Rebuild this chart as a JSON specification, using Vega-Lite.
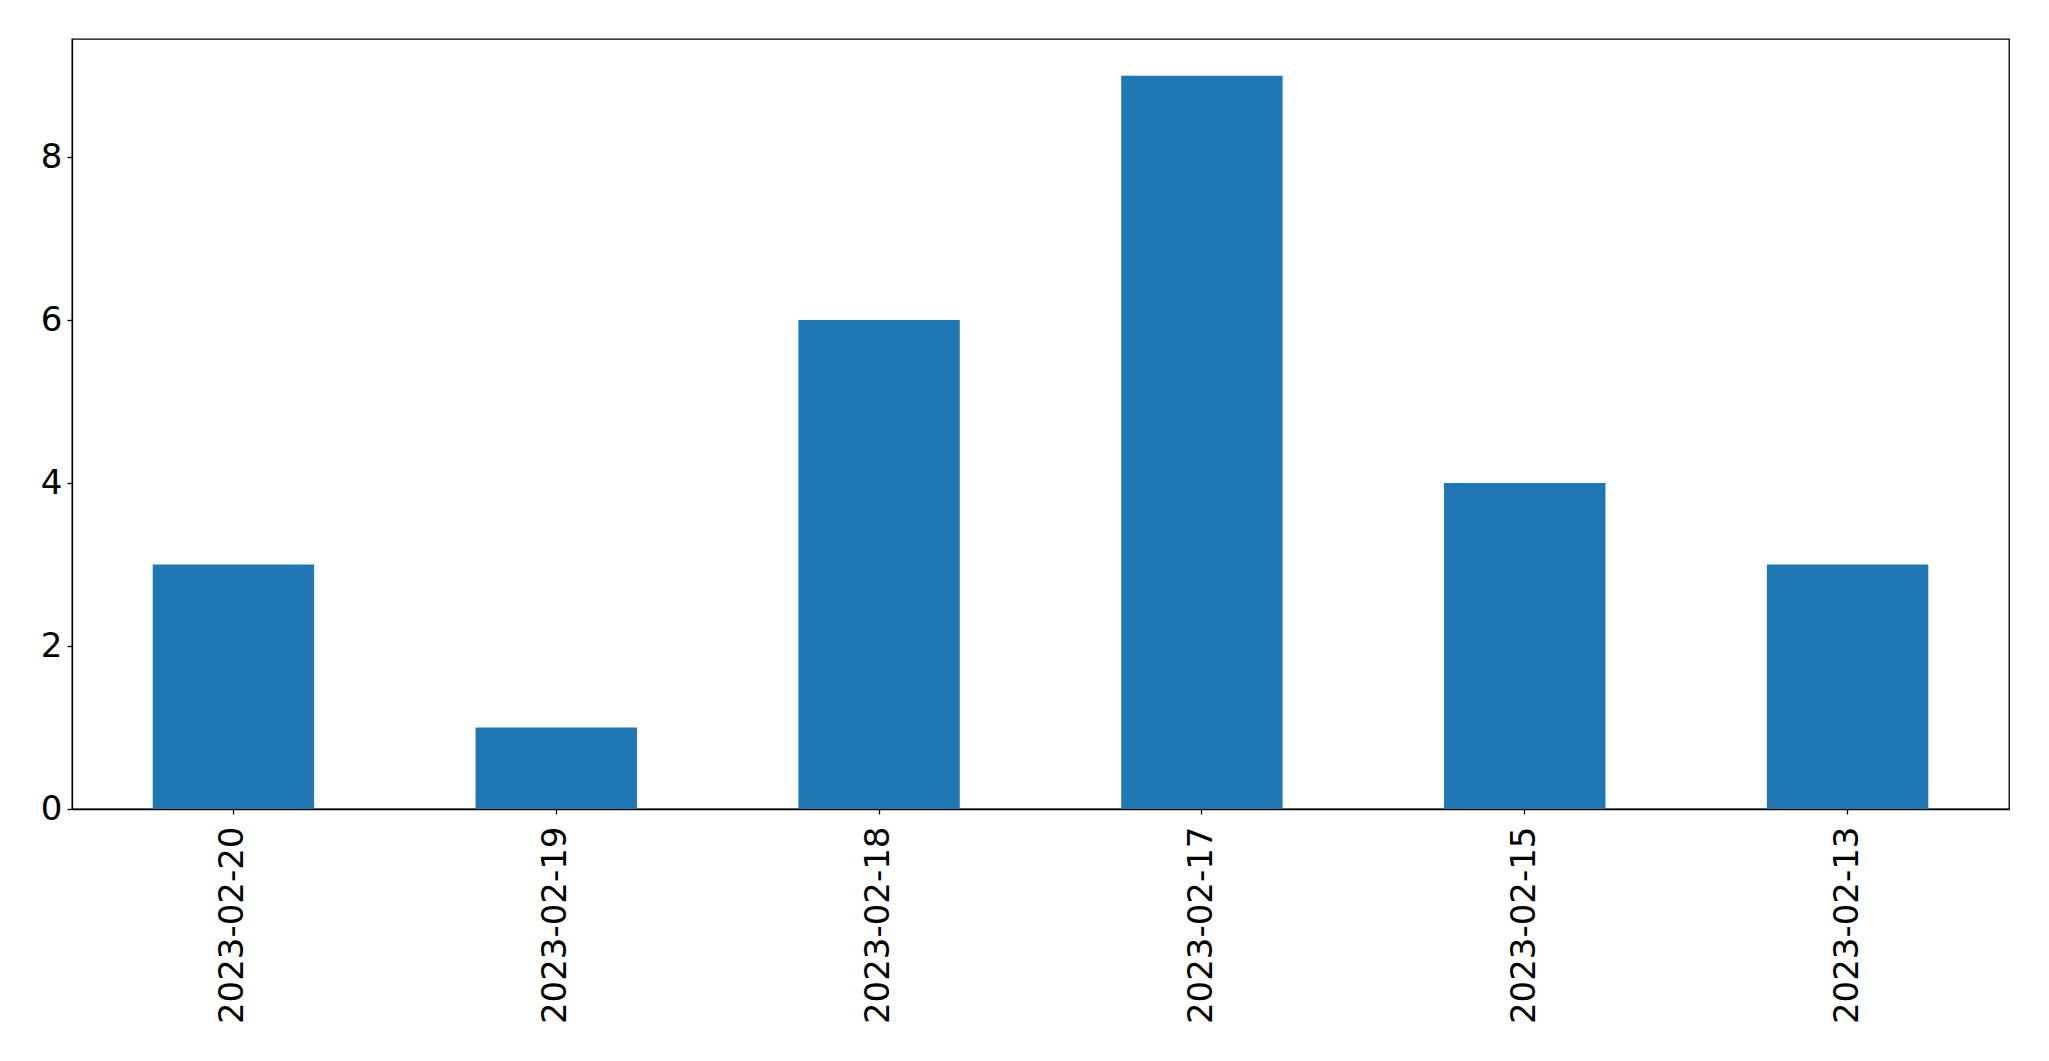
{
  "$schema": "https://vega.github.io/schema/vega-lite/v6.json",
  "autosize": "none",
  "width": 1937,
  "height": 770,
  "padding": {"left": 72, "top": 39, "right": 40, "bottom": 252},
  "background": "white",
  "data": {
    "values": [
      {"date": "2023-02-20", "count": 3},
      {"date": "2023-02-19", "count": 1},
      {"date": "2023-02-18", "count": 6},
      {"date": "2023-02-17", "count": 9},
      {"date": "2023-02-15", "count": 4},
      {"date": "2023-02-13", "count": 3}
    ]
  },
  "mark": {"type": "bar", "color": "#1f77b4"},
  "encoding": {
    "x": {
      "field": "date", "type": "nominal", "sort": null,
      "scale": {"paddingInner": 0.5, "paddingOuter": 0.25},
      "axis": {"title": null, "labelAngle": -90, "labelLimit": 0, "labelFont": "DejaVu Sans", "labelFontSize": 34, "labelColor": "black", "tickColor": "black", "tickSize": 5, "labelPadding": 12, "domainColor": "black", "grid": false}
    },
    "y": {
      "field": "count", "type": "quantitative",
      "scale": {"domain": [0, 9.45], "nice": false},
      "axis": {"title": null, "values": [0, 2, 4, 6, 8], "labelFont": "DejaVu Sans", "labelFontSize": 34, "labelColor": "black", "tickColor": "black", "tickSize": 5, "labelPadding": 5, "domainColor": "black", "grid": false}
    }
  },
  "config": {
    "view": {"stroke": "black", "strokeWidth": 1.3},
    "axis": {"domainWidth": 1.3, "tickWidth": 1.3}
  }
}
